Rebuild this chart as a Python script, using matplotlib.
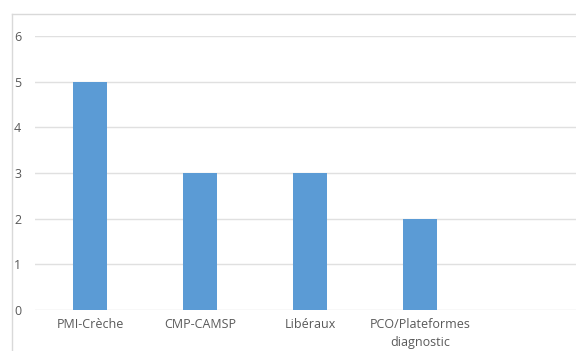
import matplotlib
matplotlib.use("Agg")
import matplotlib.pyplot as plt
from matplotlib.lines import Line2D

categories = ["PMI-Crèche", "CMP-CAMSP", "Libéraux", "PCO/Plateformes\ndiagnostic", ""]
values = [5, 3, 3, 2, 0]
y_ticks = [0, 1, 2, 3, 4, 5, 6]

W, H, DPI = 576, 351, 100
fig = plt.figure(figsize=(W / DPI, H / DPI), dpi=DPI)
fig.patch.set_facecolor("white")

# plot area (extends slightly past the right edge of the canvas)
left_px, right_px = 35, 585
zero_px, top_px = 310, 36
ax = fig.add_axes([left_px / W, (H - zero_px) / H,
                   (right_px - left_px) / W, (zero_px - top_px) / H])

x = list(range(len(categories)))
ax.bar(x, values, width=0.31, color="#5B9BD5", zorder=3)

ax.set_xlim(-0.5, len(categories) - 0.5)
ax.set_ylim(0, 6)
ax.set_yticks(y_ticks)
ax.set_xticks(x)
ax.set_xticklabels(categories, linespacing=1.5)

ax.grid(axis="y", color="#e0e0e0", linewidth=1.0, zorder=0)
ax.grid(axis="x", visible=False)
for s in ax.spines.values():
    s.set_visible(False)

ax.tick_params(axis="both", length=0, labelsize=9, labelcolor="#595959")
ax.tick_params(axis="y", pad=10)
ax.tick_params(axis="x", pad=6)
for lbl in ax.get_xticklabels() + ax.get_yticklabels():
    lbl.set_family(["Open Sans", "DejaVu Sans"])

# chart frame
frame_c = "#d9d9d9"
fx, fy = 11.5 / W, 1 - 13.5 / H
fig.add_artist(Line2D([fx, fx], [0, fy], transform=fig.transFigure,
                      color=frame_c, linewidth=1.0))
fig.add_artist(Line2D([fx, 1.0], [fy, fy], transform=fig.transFigure,
                      color=frame_c, linewidth=1.0))

fig.savefig("out.png", dpi=DPI)
